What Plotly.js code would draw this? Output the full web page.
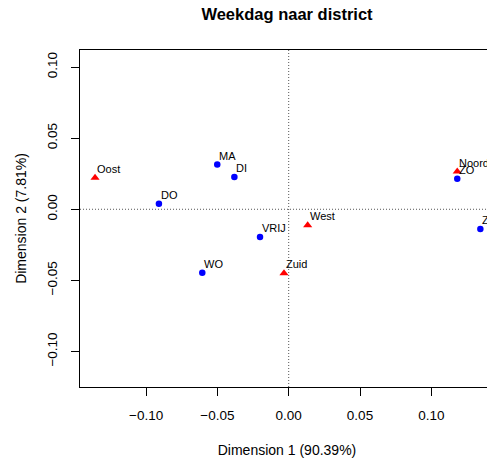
<!DOCTYPE html>
<html>
<head>
<meta charset="utf-8">
<script src="https://cdn.plot.ly/plotly-3.0.1.min.js"></script>
<style>
html, body { margin: 0; padding: 0; overflow: hidden; background: #fff; }
#chart { width: 500px; height: 459px; }
</style>
</head>
<body>
<div id="chart"></div>
<script>
// Column points (weekdays)
const days = ['MA', 'DI', 'WO', 'DO', 'VRIJ', 'ZA', 'ZO'];
const dayDim1 = [-0.0501, -0.0381, -0.0606, -0.0910, -0.0201, 0.1344, 0.1182];
const dayDim2 = [0.0314, 0.0227, -0.0446, 0.0039, -0.0195, -0.0139, 0.0215];

// Row points (districts)
const districts = ['Noord', 'Oost', 'Zuid', 'West'];
const distDim1 = [0.1182, -0.1358, -0.0033, 0.0133];
const distDim2 = [0.0265, 0.0222, -0.0450, -0.0112];

// Axis ticks
const tickVals = [-0.10, -0.05, 0.00, 0.05, 0.10];
const tickText = ['\u22120.10', '\u22120.05', '0.00', '0.05', '0.10'];

const FONT = 'Liberation Sans, Arial, Helvetica, sans-serif';

const traces = [
  {
    type: 'scatter',
    mode: 'markers',
    x: dayDim1,
    y: dayDim2,
    text: days,
    marker: { symbol: 'circle', size: 6.5, color: '#0000FF' },
    cliponaxis: true,
    hoverinfo: 'text+x+y'
  },
  {
    type: 'scatter',
    mode: 'markers',
    x: distDim1,
    y: distDim2,
    text: districts,
    marker: { symbol: 'triangle-up', size: 8, color: '#FF0000' },
    cliponaxis: true,
    hoverinfo: 'text+x+y'
  }
];

function labelAnnotations(xs, ys, labels) {
  return labels.map((t, i) => ({
    x: xs[i], y: ys[i], xref: 'x', yref: 'y',
    text: t, showarrow: false,
    xanchor: 'left', yanchor: 'middle',
    xshift: 0, yshift: 9,
    font: { family: FONT, size: 11, color: '#000' }
  }));
}

const layout = {
  width: 500,
  height: 459,
  margin: { l: 80, r: 6, t: 50, b: 72 },
  paper_bgcolor: '#fff',
  plot_bgcolor: '#fff',
  showlegend: false,
  font: { family: FONT, color: '#000' },
  title: {
    text: '<b>Weekdag naar district</b>',
    font: { family: FONT, size: 16.5, color: '#000' },
    x: 0.5, xref: 'paper', xanchor: 'center',
    y: 1 - 14 / 459, yref: 'container', yanchor: 'middle'
  },
  xaxis: {
    range: [-0.14635, 0.14397],
    tickvals: tickVals,
    ticktext: tickText,
    ticks: 'outside',
    ticklen: 8,
    tickwidth: 1,
    tickcolor: '#000',
    ticklabelstandoff: 8,
    tickfont: { family: FONT, size: 13.5, color: '#000' },
    showgrid: false,
    zeroline: false,
    showline: true,
    mirror: true,
    linecolor: '#000',
    linewidth: 1,
    title: { text: 'Dimension 1 (90.39%)', font: { family: FONT, size: 14, color: '#000' }, standoff: 22 }
  },
  yaxis: {
    range: [-0.12497, 0.1120],
    tickvals: tickVals,
    ticktext: tickText,
    ticks: 'outside',
    ticklen: 8,
    tickwidth: 1,
    tickcolor: '#000',
    tickangle: -90,
    ticklabelstandoff: 9,
    tickfont: { family: FONT, size: 13.5, color: '#000' },
    showgrid: false,
    zeroline: false,
    showline: true,
    mirror: true,
    linecolor: '#000',
    linewidth: 1,
    title: { text: 'Dimension 2 (7.81%)', font: { family: FONT, size: 14, color: '#000' }, standoff: 14 }
  },
  annotations: labelAnnotations(dayDim1, dayDim2, days)
    .concat(labelAnnotations(distDim1, distDim2, districts)),
  shapes: [
    { type: 'line', xref: 'x', yref: 'paper', x0: 0, x1: 0, y0: 0, y1: 1,
      line: { color: '#555', width: 1, dash: '1px,2px' }, layer: 'below' },
    { type: 'line', xref: 'paper', yref: 'y', x0: 0, x1: 1, y0: 0, y1: 0,
      line: { color: '#555', width: 1, dash: '1px,2px' }, layer: 'below' }
  ]
};

Plotly.newPlot('chart', traces, layout, { displayModeBar: false, staticPlot: true });
</script>
</body>
</html>
